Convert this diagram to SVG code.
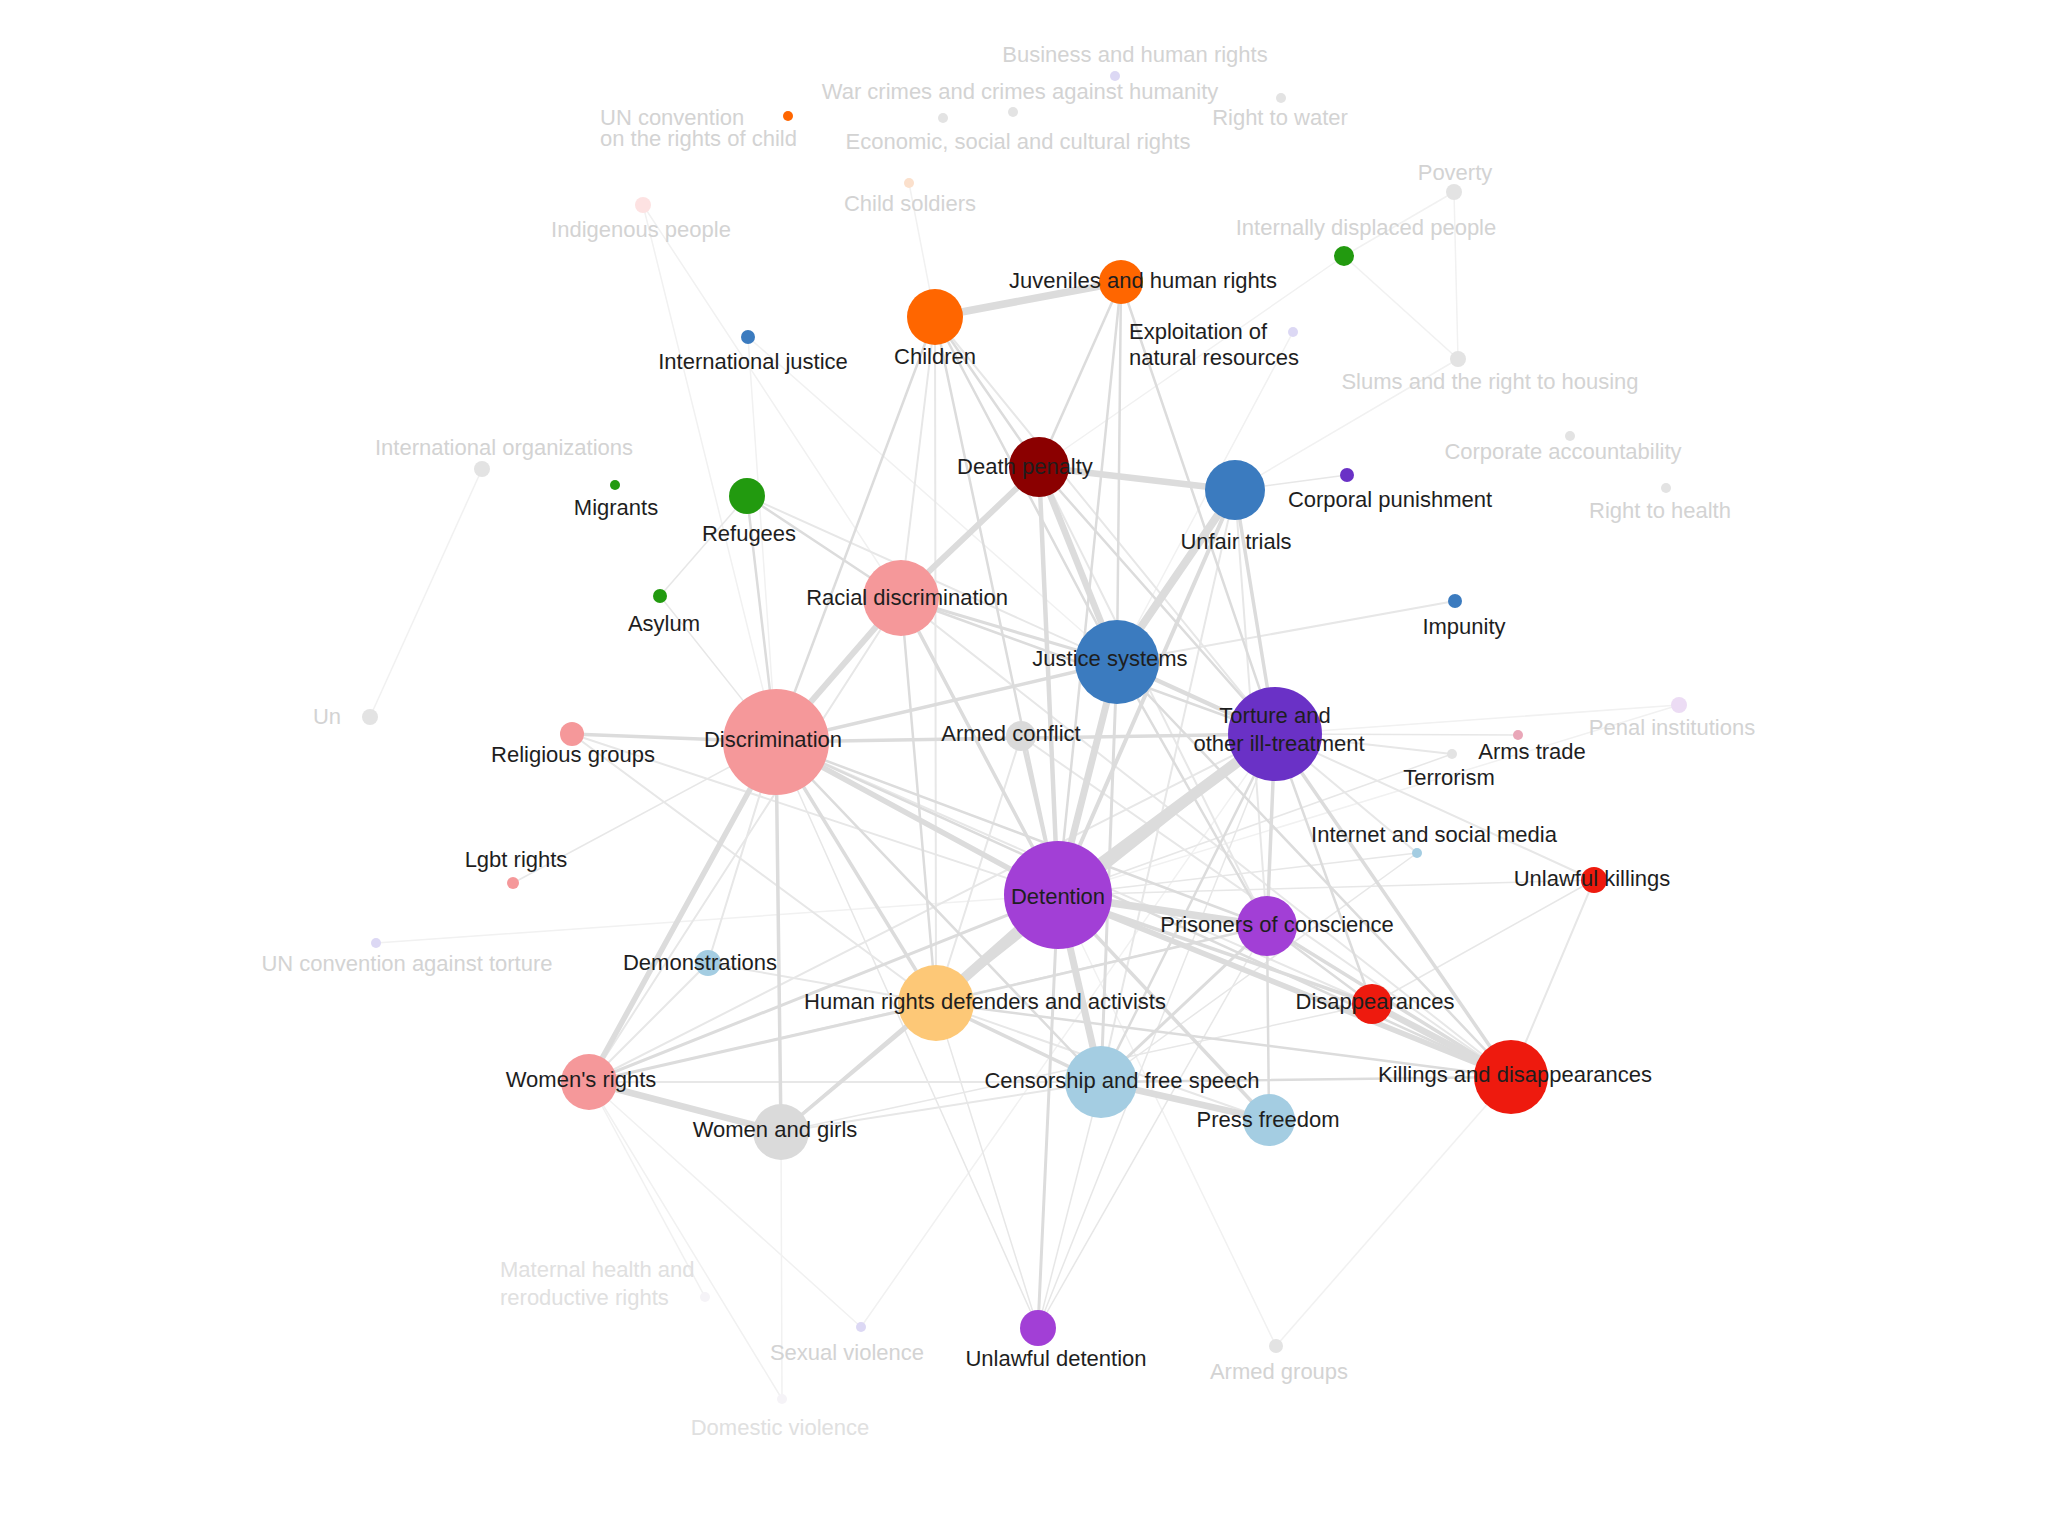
<svg xmlns="http://www.w3.org/2000/svg" width="2048" height="1536" viewBox="0 0 2048 1536">
<style>
text{font-family:"Liberation Sans",Arial,sans-serif;font-size:22px;fill:#1e1e1e;text-anchor:middle}
text.l{text-anchor:start}
text.f{fill:#d3d3d3}
text.ff{fill:#e0e0e0}
#edges line{stroke:#dcdcdc;stroke-linecap:round;fill:none}
#edges line.t{stroke:#e7e7e7}
#edges line.f{stroke:#f1f1f1;stroke-width:1.5}
.pink{fill:#f5989a}.orange{fill:#ff6600}.dred{fill:#8b0000}.blue{fill:#3b7bbf}
.violet{fill:#6a31c6}.purple{fill:#a23fd6}.green{fill:#229a0f}.lblue{fill:#a4cde2}
.yellow{fill:#fdc877}.red{fill:#ee1a0e}.gray{fill:#dadada}
.fgray{fill:#e3e3e3}.flav{fill:#dcd8f4}.fpeach{fill:#fbe0cc}.fpink{fill:#fde2e2}
</style>
<rect width="2048" height="1536" fill="#ffffff"/>
<g id="edges">
<!-- faded edges -->
<line class="f" x1="482" y1="469" x2="370" y2="717"/>
<line class="f" x1="1454" y1="192" x2="1344" y2="256"/>
<line class="f" x1="1454" y1="192" x2="1458" y2="359"/>
<line class="f" x1="1344" y1="256" x2="1458" y2="359"/>
<line class="f" x1="1344" y1="256" x2="1039" y2="467"/>
<line class="f" x1="1458" y1="359" x2="1235" y2="490"/>
<line class="f" x1="643" y1="205" x2="776" y2="742"/>
<line class="f" x1="643" y1="205" x2="901" y2="598"/>
<line class="f" x1="909" y1="183" x2="935" y2="317"/>
<line class="f" x1="1293" y1="332" x2="1117" y2="662"/>
<line class="f" x1="1679" y1="705" x2="1275" y2="734"/>
<line class="f" x1="1679" y1="705" x2="1058" y2="895"/>
<line class="f" x1="861" y1="1327" x2="589" y2="1082"/>
<line class="f" x1="861" y1="1327" x2="1275" y2="734"/>
<line class="f" x1="1276" y1="1346" x2="1058" y2="895"/>
<line class="f" x1="1276" y1="1346" x2="1511" y2="1077"/>
<line class="f" x1="782" y1="1399" x2="589" y2="1082"/>
<line class="f" x1="782" y1="1399" x2="781" y2="1132"/>
<line class="f" x1="705" y1="1297" x2="589" y2="1082"/>
<line class="f" x1="376" y1="943" x2="1058" y2="895"/>
<line class="f" x1="748" y1="337" x2="1117" y2="662"/>
<line class="f" x1="748" y1="337" x2="776" y2="742"/>
<!-- thin edges -->
<line class="t" stroke-width="1.5" x1="513" y1="883" x2="776" y2="742"/>
<line class="t" stroke-width="1.5" x1="660" y1="596" x2="747" y2="496"/>
<line class="t" stroke-width="1.5" x1="660" y1="596" x2="776" y2="742"/>
<line class="t" stroke-width="1.5" x1="1038" y1="1328" x2="776" y2="742"/>
<line class="t" stroke-width="1.5" x1="1038" y1="1328" x2="936" y2="1003"/>
<line class="t" stroke-width="1.5" x1="1038" y1="1328" x2="1101" y2="1082"/>
<line class="t" stroke-width="1.5" x1="1038" y1="1328" x2="1275" y2="734"/>
<line class="t" stroke-width="1.5" x1="1038" y1="1328" x2="1267" y2="926"/>
<line class="t" stroke-width="1.5" x1="1417" y1="853" x2="1101" y2="1082"/>
<line class="t" stroke-width="1.5" x1="1417" y1="853" x2="1058" y2="895"/>
<line class="t" stroke-width="1.5" x1="1452" y1="754" x2="1058" y2="895"/>
<line class="t" stroke-width="1.5" x1="1594" y1="880" x2="1058" y2="895"/>
<line class="t" stroke-width="1.5" x1="1594" y1="880" x2="1372" y2="1004"/>
<line class="t" stroke-width="1.5" x1="781" y1="1132" x2="1372" y2="1004"/>
<line class="t" stroke-width="1.5" x1="589" y1="1082" x2="1267" y2="926"/>
<line class="t" stroke-width="1.5" x1="1235" y1="490" x2="1347" y2="475"/>
<line class="t" stroke-width="1.5" x1="1275" y1="734" x2="1518" y2="735"/>
<line class="t" stroke-width="2" x1="1275" y1="734" x2="1452" y2="754"/>
<line class="t" stroke-width="2" x1="1275" y1="734" x2="1417" y2="853"/>
<line class="t" stroke-width="2" x1="1275" y1="734" x2="1594" y2="880"/>
<line class="t" stroke-width="2" x1="708" y1="963" x2="936" y2="1003"/>
<line class="t" stroke-width="2" x1="708" y1="963" x2="776" y2="742"/>
<line class="t" stroke-width="2" x1="708" y1="963" x2="589" y2="1082"/>
<line class="t" stroke-width="2" x1="589" y1="1082" x2="1101" y2="1082"/>
<line class="t" stroke-width="2" x1="776" y1="742" x2="1372" y2="1004"/>
<line class="t" stroke-width="2" x1="901" y1="598" x2="1511" y2="1077"/>
<line class="t" stroke-width="2" x1="901" y1="598" x2="589" y2="1082"/>
<line class="t" stroke-width="2" x1="1235" y1="490" x2="1267" y2="926"/>
<line class="t" stroke-width="2" x1="1235" y1="490" x2="1101" y2="1082"/>
<line class="t" stroke-width="2" x1="1039" y1="467" x2="1267" y2="926"/>
<line class="t" stroke-width="2" x1="1511" y1="1077" x2="1594" y2="880"/>
<line class="t" stroke-width="2" x1="1101" y1="1082" x2="781" y2="1132"/>
<line class="t" stroke-width="2" x1="936" y1="1003" x2="1269" y2="1120"/>
<line class="t" stroke-width="2" x1="1021" y1="736" x2="1511" y2="1077"/>
<line class="t" stroke-width="2" x1="1021" y1="736" x2="936" y2="1003"/>
<line class="t" stroke-width="2" x1="572" y1="734" x2="1058" y2="895"/>
<line class="t" stroke-width="2" x1="572" y1="734" x2="936" y2="1003"/>
<line class="t" stroke-width="2" x1="589" y1="1082" x2="1275" y2="734"/>
<line class="t" stroke-width="2" x1="1117" y1="662" x2="1455" y2="601"/>
<line class="t" stroke-width="2" x1="747" y1="496" x2="1275" y2="734"/>
<line class="t" stroke-width="2" x1="935" y1="317" x2="1275" y2="734"/>
<line class="t" stroke-width="2" x1="935" y1="317" x2="936" y2="1003"/>
<line class="t" stroke-width="2" x1="935" y1="317" x2="901" y2="598"/>
<!-- medium edges -->
<line stroke-width="2.5" x1="935" y1="317" x2="1039" y2="467"/>
<line stroke-width="2.5" x1="935" y1="317" x2="776" y2="742"/>
<line stroke-width="2.5" x1="935" y1="317" x2="1117" y2="662"/>
<line stroke-width="2.5" x1="935" y1="317" x2="1058" y2="895"/>
<line stroke-width="2.5" x1="1121" y1="282" x2="1039" y2="467"/>
<line stroke-width="2.5" x1="1121" y1="282" x2="1117" y2="662"/>
<line stroke-width="2.5" x1="1121" y1="282" x2="1058" y2="895"/>
<line stroke-width="2.5" x1="1121" y1="282" x2="1275" y2="734"/>
<line stroke-width="2.5" x1="747" y1="496" x2="776" y2="742"/>
<line stroke-width="2.5" x1="747" y1="496" x2="901" y2="598"/>
<line stroke-width="2.5" x1="776" y1="742" x2="1101" y2="1082"/>
<line stroke-width="2.5" x1="776" y1="742" x2="1267" y2="926"/>
<line stroke-width="2.5" x1="776" y1="742" x2="1511" y2="1077"/>
<line stroke-width="2.5" x1="901" y1="598" x2="1275" y2="734"/>
<line stroke-width="2.5" x1="901" y1="598" x2="936" y2="1003"/>
<line stroke-width="2.5" x1="1117" y1="662" x2="1267" y2="926"/>
<line stroke-width="2.5" x1="1117" y1="662" x2="1511" y2="1077"/>
<line stroke-width="2.5" x1="1275" y1="734" x2="1372" y2="1004"/>
<line stroke-width="2.5" x1="1275" y1="734" x2="1101" y2="1082"/>
<line stroke-width="2.5" x1="1039" y1="467" x2="1275" y2="734"/>
<line stroke-width="2.5" x1="1267" y1="926" x2="1372" y2="1004"/>
<line stroke-width="2.5" x1="1267" y1="926" x2="1269" y2="1120"/>
<line stroke-width="2.5" x1="1101" y1="1082" x2="1511" y2="1077"/>
<line stroke-width="2.5" x1="936" y1="1003" x2="1267" y2="926"/>
<line stroke-width="2.5" x1="936" y1="1003" x2="1511" y2="1077"/>
<line stroke-width="2.5" x1="1058" y1="895" x2="781" y2="1132"/>
<line stroke-width="3" x1="936" y1="1003" x2="589" y2="1082"/>
<line stroke-width="3" x1="1058" y1="895" x2="1038" y2="1328"/>
<line stroke-width="3" x1="1058" y1="895" x2="589" y2="1082"/>
<line stroke-width="3" x1="1117" y1="662" x2="1101" y2="1082"/>
<line stroke-width="3" x1="901" y1="598" x2="1117" y2="662"/>
<line stroke-width="3" x1="1101" y1="1082" x2="1267" y2="926"/>
<line stroke-width="3.5" x1="776" y1="742" x2="572" y2="734"/>
<line stroke-width="3.5" x1="776" y1="742" x2="781" y2="1132"/>
<line stroke-width="3.5" x1="936" y1="1003" x2="781" y2="1132"/>
<line stroke-width="3.5" x1="776" y1="742" x2="1275" y2="734"/>
<line stroke-width="3.5" x1="776" y1="742" x2="936" y2="1003"/>
<line stroke-width="3.5" x1="776" y1="742" x2="1117" y2="662"/>
<line stroke-width="3.5" x1="1275" y1="734" x2="1267" y2="926"/>
<line stroke-width="3.5" x1="1275" y1="734" x2="1511" y2="1077"/>
<line stroke-width="3.5" x1="1267" y1="926" x2="1511" y2="1077"/>
<line stroke-width="3.5" x1="1058" y1="895" x2="1372" y2="1004"/>
<line stroke-width="3.5" x1="1058" y1="895" x2="1269" y2="1120"/>
<line stroke-width="3.5" x1="901" y1="598" x2="1058" y2="895"/>
<line stroke-width="3.5" x1="1021" y1="736" x2="1058" y2="895"/>
<line stroke-width="3.5" x1="936" y1="1003" x2="1101" y2="1082"/>
<line stroke-width="3.5" x1="936" y1="1003" x2="1275" y2="734"/>
<line stroke-width="3.5" x1="1235" y1="490" x2="1275" y2="734"/>
<line stroke-width="4" x1="1235" y1="490" x2="1058" y2="895"/>
<line stroke-width="4.5" x1="1117" y1="662" x2="1275" y2="734"/>
<line stroke-width="4.5" x1="1039" y1="467" x2="1058" y2="895"/>
<!-- thick edges -->
<line stroke-width="5.5" x1="776" y1="742" x2="589" y2="1082"/>
<line stroke-width="5.5" x1="776" y1="742" x2="1058" y2="895"/>
<line stroke-width="5.5" x1="1058" y1="895" x2="1511" y2="1077"/>
<line stroke-width="6" x1="1039" y1="467" x2="901" y2="598"/>
<line stroke-width="6" x1="901" y1="598" x2="776" y2="742"/>
<line stroke-width="6.5" x1="589" y1="1082" x2="781" y2="1132"/>
<line stroke-width="6.5" x1="1372" y1="1004" x2="1511" y2="1077"/>
<line stroke-width="6.5" x1="1101" y1="1082" x2="1269" y2="1120"/>
<line stroke-width="6.5" x1="1039" y1="467" x2="1235" y2="490"/>
<line stroke-width="6.5" x1="1039" y1="467" x2="1117" y2="662"/>
<line stroke-width="7" x1="1117" y1="662" x2="1058" y2="895"/>
<line stroke-width="7" x1="1058" y1="895" x2="1101" y2="1082"/>
<line stroke-width="7.5" x1="1058" y1="895" x2="1267" y2="926"/>
<line stroke-width="7.5" x1="935" y1="317" x2="1121" y2="282"/>
<line stroke-width="8" x1="1235" y1="490" x2="1117" y2="662"/>
<line stroke-width="10" x1="1058" y1="895" x2="936" y2="1003"/>
<line stroke-width="11" x1="1275" y1="734" x2="1058" y2="895"/>
</g>
<!-- faded nodes -->
<g id="n-business"><circle class="flav" cx="1115" cy="76" r="5"/><text class="f" x="1135" y="62">Business and human rights</text></g>
<g id="n-warcrimes"><circle class="fgray" cx="1013" cy="112" r="5"/><text class="f" x="1020" y="99">War crimes and crimes against humanity</text></g>
<g id="n-economic"><circle class="fgray" cx="943" cy="118" r="5"/><text class="f" x="1018" y="149">Economic, social and cultural rights</text></g>
<g id="n-uncrc"><circle class="orange" cx="788" cy="116" r="5"/><text class="f l" x="600" y="125">UN convention</text><text class="f l" x="600" y="146">on the rights of child</text></g>
<g id="n-water"><circle class="fgray" cx="1281" cy="98" r="5"/><text class="f" x="1280" y="125">Right to water</text></g>
<g id="n-childsoldiers"><circle class="fpeach" cx="909" cy="183" r="5"/><text class="f" x="910" y="211">Child soldiers</text></g>
<g id="n-indigenous"><circle class="fpink" cx="643" cy="205" r="8"/><text class="f" x="641" y="237">Indigenous people</text></g>
<g id="n-poverty"><circle class="fgray" cx="1454" cy="192" r="8"/><text class="f" x="1455" y="180">Poverty</text></g>
<g id="n-idp"><circle class="green" cx="1344" cy="256" r="10"/><text class="f" x="1366" y="235">Internally displaced people</text></g>
<g id="n-slums"><circle class="fgray" cx="1458" cy="359" r="8"/><text class="f" x="1490" y="389">Slums and the right to housing</text></g>
<g id="n-intorg"><circle class="fgray" cx="482" cy="469" r="8"/><text class="f" x="504" y="455">International organizations</text></g>
<g id="n-corporate"><circle class="fgray" cx="1570" cy="436" r="5"/><text class="f" x="1563" y="459">Corporate accountability</text></g>
<g id="n-health"><circle class="fgray" cx="1666" cy="488" r="5"/><text class="f" x="1660" y="518">Right to health</text></g>
<g id="n-un"><circle class="fgray" cx="370" cy="717" r="8"/><text class="f" x="327" y="724">Un</text></g>
<g id="n-penal"><circle fill="#ecdcf4" cx="1679" cy="705" r="8"/><text class="f" x="1672" y="735">Penal institutions</text></g>
<g id="n-uncat"><circle class="flav" cx="376" cy="943" r="5"/><text class="f" x="407" y="971">UN convention against torture</text></g>
<g id="n-maternal"><circle fill="#f5f3f7" cx="705" cy="1297" r="5"/><text class="ff l" x="500" y="1277">Maternal health and</text><text class="ff l" x="500" y="1305">reroductive rights</text></g>
<g id="n-sexual"><circle class="flav" cx="861" cy="1327" r="5"/><text class="f" x="847" y="1360">Sexual violence</text></g>
<g id="n-armedgroups"><circle class="fgray" cx="1276" cy="1346" r="7"/><text class="f" x="1279" y="1379">Armed groups</text></g>
<g id="n-domestic"><circle fill="#f5f3f7" cx="782" cy="1399" r="5"/><text class="ff" x="780" y="1435">Domestic violence</text></g>
<!-- main nodes -->
<g id="n-children"><circle class="orange" cx="935" cy="317" r="28"/><text x="935" y="364">Children</text></g>
<g id="n-juveniles"><circle class="orange" cx="1121" cy="282" r="22"/><text x="1143" y="288">Juveniles and human rights</text></g>
<g id="n-intjustice"><circle class="blue" cx="748" cy="337" r="7"/><text x="753" y="369">International justice</text></g>
<g id="n-exploitation"><circle class="flav" cx="1293" cy="332" r="5"/><text class="l" x="1129" y="339">Exploitation of</text><text class="l" x="1129" y="365">natural resources</text></g>
<g id="n-migrants"><circle class="green" cx="615" cy="485" r="5"/><text x="616" y="515">Migrants</text></g>
<g id="n-refugees"><circle class="green" cx="747" cy="496" r="18"/><text x="749" y="541">Refugees</text></g>
<g id="n-asylum"><circle class="green" cx="660" cy="596" r="7"/><text x="664" y="631">Asylum</text></g>
<g id="n-deathpenalty"><circle class="dred" cx="1039" cy="467" r="30"/><text x="1025" y="474">Death penalty</text></g>
<g id="n-unfairtrials"><circle class="blue" cx="1235" cy="490" r="30"/><text x="1236" y="549">Unfair trials</text></g>
<g id="n-corporal"><circle class="violet" cx="1347" cy="475" r="7"/><text x="1390" y="507">Corporal punishment</text></g>
<g id="n-racial"><circle class="pink" cx="901" cy="598" r="38"/><text x="907" y="605">Racial discrimination</text></g>
<g id="n-impunity"><circle class="blue" cx="1455" cy="601" r="7"/><text x="1464" y="634">Impunity</text></g>
<g id="n-justice"><circle class="blue" cx="1117" cy="662" r="42"/><text x="1110" y="666">Justice systems</text></g>
<g id="n-religious"><circle class="pink" cx="572" cy="734" r="12"/><text x="573" y="762">Religious groups</text></g>
<g id="n-discrimination"><circle class="pink" cx="776" cy="742" r="53"/><text x="773" y="747">Discrimination</text></g>
<g id="n-armedconflict"><circle class="gray" cx="1021" cy="736" r="15"/><text x="1011" y="741">Armed conflict</text></g>
<g id="n-torture"><circle class="violet" cx="1275" cy="734" r="47"/><text x="1275" y="723">Torture and</text><text x="1279" y="751">other ill-treatment</text></g>
<g id="n-armstrade"><circle fill="#e9a7b8" cx="1518" cy="735" r="5"/><text x="1532" y="759">Arms trade</text></g>
<g id="n-terrorism"><circle class="fgray" cx="1452" cy="754" r="5"/><text x="1449" y="785">Terrorism</text></g>
<g id="n-internet"><circle class="lblue" cx="1417" cy="853" r="5"/><text x="1434" y="842">Internet and social media</text></g>
<g id="n-lgbt"><circle class="pink" cx="513" cy="883" r="6"/><text x="516" y="867">Lgbt rights</text></g>
<g id="n-unlawfulkillings"><circle class="red" cx="1594" cy="880" r="13"/><text x="1592" y="886">Unlawful killings</text></g>
<g id="n-detention"><circle class="purple" cx="1058" cy="895" r="54"/><text x="1058" y="904">Detention</text></g>
<g id="n-prisoners"><circle class="purple" cx="1267" cy="926" r="30"/><text x="1277" y="932">Prisoners of conscience</text></g>
<g id="n-demonstrations"><circle class="lblue" cx="708" cy="963" r="13"/><text x="700" y="970">Demonstrations</text></g>
<g id="n-hrd"><circle class="yellow" cx="936" cy="1003" r="38"/><text x="985" y="1009">Human rights defenders and activists</text></g>
<g id="n-disappearances"><circle class="red" cx="1372" cy="1004" r="20"/><text x="1375" y="1009">Disappearances</text></g>
<g id="n-womensrights"><circle class="pink" cx="589" cy="1082" r="28"/><text x="581" y="1087">Women's rights</text></g>
<g id="n-censorship"><circle class="lblue" cx="1101" cy="1082" r="36"/><text x="1122" y="1088">Censorship and free speech</text></g>
<g id="n-killings"><circle class="red" cx="1511" cy="1077" r="37"/><text x="1515" y="1082">Killings and disappearances</text></g>
<g id="n-pressfreedom"><circle class="lblue" cx="1269" cy="1120" r="26"/><text x="1268" y="1127">Press freedom</text></g>
<g id="n-womengirls"><circle class="gray" cx="781" cy="1132" r="28"/><text x="775" y="1137">Women and girls</text></g>
<g id="n-unlawfuldetention"><circle class="purple" cx="1038" cy="1328" r="18"/><text x="1056" y="1366">Unlawful detention</text></g>
</svg>
